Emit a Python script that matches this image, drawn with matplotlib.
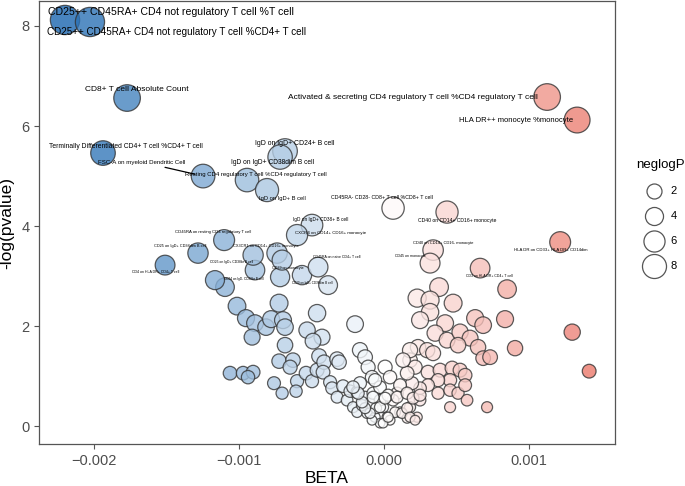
import numpy as np
import matplotlib
matplotlib.use("Agg")
import matplotlib.pyplot as plt
from matplotlib.colors import LinearSegmentedColormap, Normalize
from matplotlib.lines import Line2D
from matplotlib.ticker import FuncFormatter

plt.rcParams['font.family'] = ['Liberation Sans', 'DejaVu Sans']

# labelled traits: BETA (x 1e-3) and -log(pvalue)
label_names = [
    "CD25++ CD45RA+ CD4 not regulatory T cell %T cell",
    "CD25++ CD45RA+ CD4 not regulatory T cell %CD4+ T cell",
    "CD8+ T cell Absolute Count",
    "Activated & secreting CD4 regulatory T cell %CD4 regulatory T cell",
    "HLA DR++ monocyte %monocyte",
    "Terminally Differentiated CD4+ T cell %CD4+ T cell",
    "FSC-A on myeloid Dendritic Cell",
    "Resting CD4 regulatory T cell %CD4 regulatory T cell",
    "IgD on IgD+ CD24+ B cell",
    "IgD on IgD+ CD38dim B cell",
    "IgD on IgD+ B cell",
    "CD45RA- CD28- CD8+ T cell %CD8+ T cell",
    "CD40 on CD14+ CD16+ monocyte",
    "CD40 on CD14+ CD16- monocyte",
    "CD45 on monocyte",
    "HLA DR on CD33+ HLA DR+ CD14dim",
    "CD3 on HLA DR+ CD4+ T cell",
    "CD45RA on resting CD4 regulatory T cell",
    "CD25 on IgD+ CD38dim B cell",
    "CD4 on HLA DR+ CD4+ T cell",
    "CD25 on IgD+ CD38br B cell",
    "CX3CR1 on CD14+ CD16+ monocyte",
    "IgD on IgD+ CD38+ B cell",
    "CXCR4 on CD14+ CD16+ monocyte",
    "CD39 on monocyte",
    "CD45RA on naive CD4+ T cell",
    "CD24 on IgD- CD38br B cell",
    "CD20 on IgD+ CD38dim B cell",
]
label_beta = [-2.200, -2.028, -1.772, 1.124, 1.331, -1.938, -1.248, -0.945,
              -0.683, -0.717, -0.807, 0.062, 0.434, 0.338, 0.317, 1.214,
              0.662, -1.103, -1.283, -1.510, -0.890, -0.903, -0.497, -0.600,
              -0.703, -0.455, -1.166, -0.386]
label_p = [8.12, 8.08, 6.56, 6.58, 6.12, 5.46, 5.00, 4.92,
           5.50, 5.38, 4.72, 4.36, 4.28, 3.52, 3.26, 3.68,
           3.16, 3.72, 3.46, 3.22, 3.12, 3.42, 4.02, 3.82,
           3.32, 3.18, 2.92, 2.82]

# remaining traits
other_beta = [
    -0.738, -0.717, -0.566, -1.097, -1.014, -0.724, -0.952, -0.890, -0.814, -0.779,
    -0.697, -0.683, -0.910, -0.462, -0.200, -0.531, -0.428, -0.490, -0.683, -0.724,
    -0.628, -0.648, -1.062, -0.972, -0.903, -0.938, -0.759, -0.703, -0.600, -0.607,
    -0.538, -0.497, -0.462, -0.448, -0.414, -0.421, -0.372, -0.324, -0.310, -0.359,
    -0.324, -0.283, -0.255, -0.234, -0.214, -0.186, -0.166, -0.131, -0.110, -0.083,
    -0.166, -0.131, -0.186, -0.117, -0.062, -0.028, -0.007, -0.097, 0.007, -0.076,
    -0.028, 0.021,
    0.848, 0.379, 0.228, 0.317, 0.476, 0.317, 0.248, 0.421, 0.628, 0.683,
    0.834, 0.903, 1.297, 1.414, 0.352, 0.434, 0.524, 0.593, 0.510, 0.648,
    0.683, 0.731, 0.234, 0.297, 0.338, 0.179, 0.214, 0.303, 0.386, 0.469,
    0.524, 0.559, 0.455, 0.372, 0.303, 0.248, 0.193, 0.159, 0.372, 0.455,
    0.510, 0.559, 0.572, 0.455, 0.710, 0.248, 0.179, 0.110, 0.228, 0.159,
    0.041, 0.041, -0.062, 0.090, -0.028, 0.179, 0.131,
    -0.055, 0.062, 0.110, 0.028, -0.152, 0.076, -0.083,
    -0.007, 0.028, 0.124, 0.159, 0.179, 0.214, -0.097, -0.131, -0.152, -0.028,
    0.007, 0.090, 0.159, 0.200, 0.248, -0.179, -0.214, -0.076,
]
other_p = [
    3.46, 2.98, 3.02, 2.78, 2.40, 2.46, 2.16, 2.06, 1.98, 2.14,
    2.12, 1.98, 1.78, 2.26, 2.04, 1.92, 1.78, 1.70, 1.62, 1.30,
    1.32, 1.18, 1.06, 1.06, 1.08, 0.98, 0.86, 0.66, 0.90, 0.70,
    1.06, 0.90, 1.12, 1.40, 1.28, 1.08, 0.88, 1.34, 1.28, 0.76,
    0.58, 0.80, 0.52, 0.70, 0.38, 0.68, 1.52, 1.38, 1.18, 0.98,
    0.86, 0.58, 0.28, 0.26, 0.18, 0.06, 0.38, 0.46, 1.18, 0.66,
    0.78, 0.18,
    2.74, 2.78, 2.56, 2.52, 2.46, 2.28, 2.12, 2.06, 2.16, 2.02,
    2.14, 1.56, 1.88, 1.10, 1.86, 1.72, 1.88, 1.76, 1.62, 1.58,
    1.36, 1.38, 1.58, 1.52, 1.46, 1.32, 1.18, 1.08, 1.12, 1.16,
    1.12, 1.02, 0.92, 0.92, 0.82, 0.76, 0.86, 1.06, 0.66, 0.72,
    0.66, 0.82, 0.52, 0.38, 0.38, 0.52, 0.38, 0.28, 0.18, 0.16,
    0.12, 0.98, 0.92, 0.66, 0.52, 1.52, 1.32,
    0.36, 0.52, 0.82, 0.62, 0.42, 0.28, 0.12,
    0.06, 0.18, 0.26, 0.36, 0.18, 0.12, 0.26, 0.36, 0.48, 0.38,
    0.56, 0.58, 0.66, 0.56, 0.62, 0.66, 0.78, 0.58,
]

# where the repelled labels ended up (data coords, x in 1e-3)
label_pos = [(-1.469, 8.28), (-1.430, 7.88), (-1.703, 6.74), (0.200, 6.58),
             (0.910, 6.12), (-1.779, 5.60), (-1.669, 5.28), (-0.883, 5.04),
             (-0.614, 5.66), (-0.772, 5.28), (-0.703, 4.56), (-0.014, 4.58),
             (0.503, 4.12), (0.407, 3.66), (0.179, 3.40), (1.152, 3.52),
             (0.724, 3.00), (-1.179, 3.88), (-1.407, 3.60), (-1.572, 3.08),
             (-1.055, 3.28), (-0.814, 3.60), (-0.434, 4.14), (-0.366, 3.86),
             (-0.662, 3.16), (-0.324, 3.38), (-0.966, 2.94), (-0.497, 2.86)]
segment_labels = ["FSC-A on myeloid Dendritic Cell"]

beta = np.array(other_beta + label_beta) * 1e-3
neglogp = np.array(other_p + label_p)


def point_size(v):
    # marker area in pt^2, roughly area-proportional like scale_size
    return 0.5184 * (85 + 95 * np.asarray(v))


cmap = LinearSegmentedColormap.from_list("bwr_gg", ["#1A66B0", "#FFFFFF", "#E0301C"])
norm = Normalize(vmin=-2.2e-3, vmax=2.2e-3)

fig = plt.figure(figsize=(6.85, 4.86), dpi=100)
ax = fig.add_axes([0.057, 0.086, 0.841, 0.912])

ax.scatter(beta, neglogp, s=point_size(neglogp), c=beta, cmap=cmap, norm=norm,
           alpha=0.8, edgecolors="#333333", linewidths=0.9, zorder=2)

for name, bx, py, (tx, ty) in zip(label_names, label_beta, label_p, label_pos):
    fs = max(1.02 * py - 0.7, 2.0)
    if name.endswith("%CD4+ T cell") and py > 8:
        fs -= 0.4
    props = None
    if name in segment_labels:
        props = dict(arrowstyle="-", color="black", lw=0.9, shrinkA=0, shrinkB=6)
    ax.annotate(name, xy=(bx * 1e-3, py), xytext=(tx * 1e-3, ty),
                ha="center", va="center", fontsize=fs, color="black",
                arrowprops=props, zorder=3)

ax.set_xlim(-2.379e-3, 1.593e-3)
ax.set_ylim(-0.36, 8.5)
ax.set_xticks([-0.002, -0.001, 0.0, 0.001])
ax.set_yticks([0, 2, 4, 6, 8])
ax.xaxis.set_major_formatter(FuncFormatter(lambda v, p: f"{v:.3f}".replace("-", "\u2212")))
ax.tick_params(colors="#555555", labelcolor="#4D4D4D", labelsize=10.5, length=3.5, width=0.8)
for sp in ax.spines.values():
    sp.set_color("#555555")
    sp.set_linewidth(0.9)

ax.set_xlabel("BETA", fontsize=12.5, labelpad=2)
ax.set_ylabel("-log(pvalue)", fontsize=12.5, labelpad=5)

# legend keys drawn a little smaller than the points, as in the original
handles = [Line2D([], [], ls="", marker="o", markerfacecolor="white",
                  markeredgecolor="#555555", markeredgewidth=0.9,
                  markersize=ms) for ms in [10.8, 13.0, 15.2, 17.3]]
fig.legend(handles, ["2", "4", "6", "8"], title="neglogP", loc="upper left",
           bbox_to_anchor=(0.928, 0.672), frameon=False, fontsize=8,
           title_fontsize=9.5, labelspacing=1.35, handletextpad=0.5,
           borderaxespad=0, borderpad=0)

fig.savefig("out.png", dpi=100)
